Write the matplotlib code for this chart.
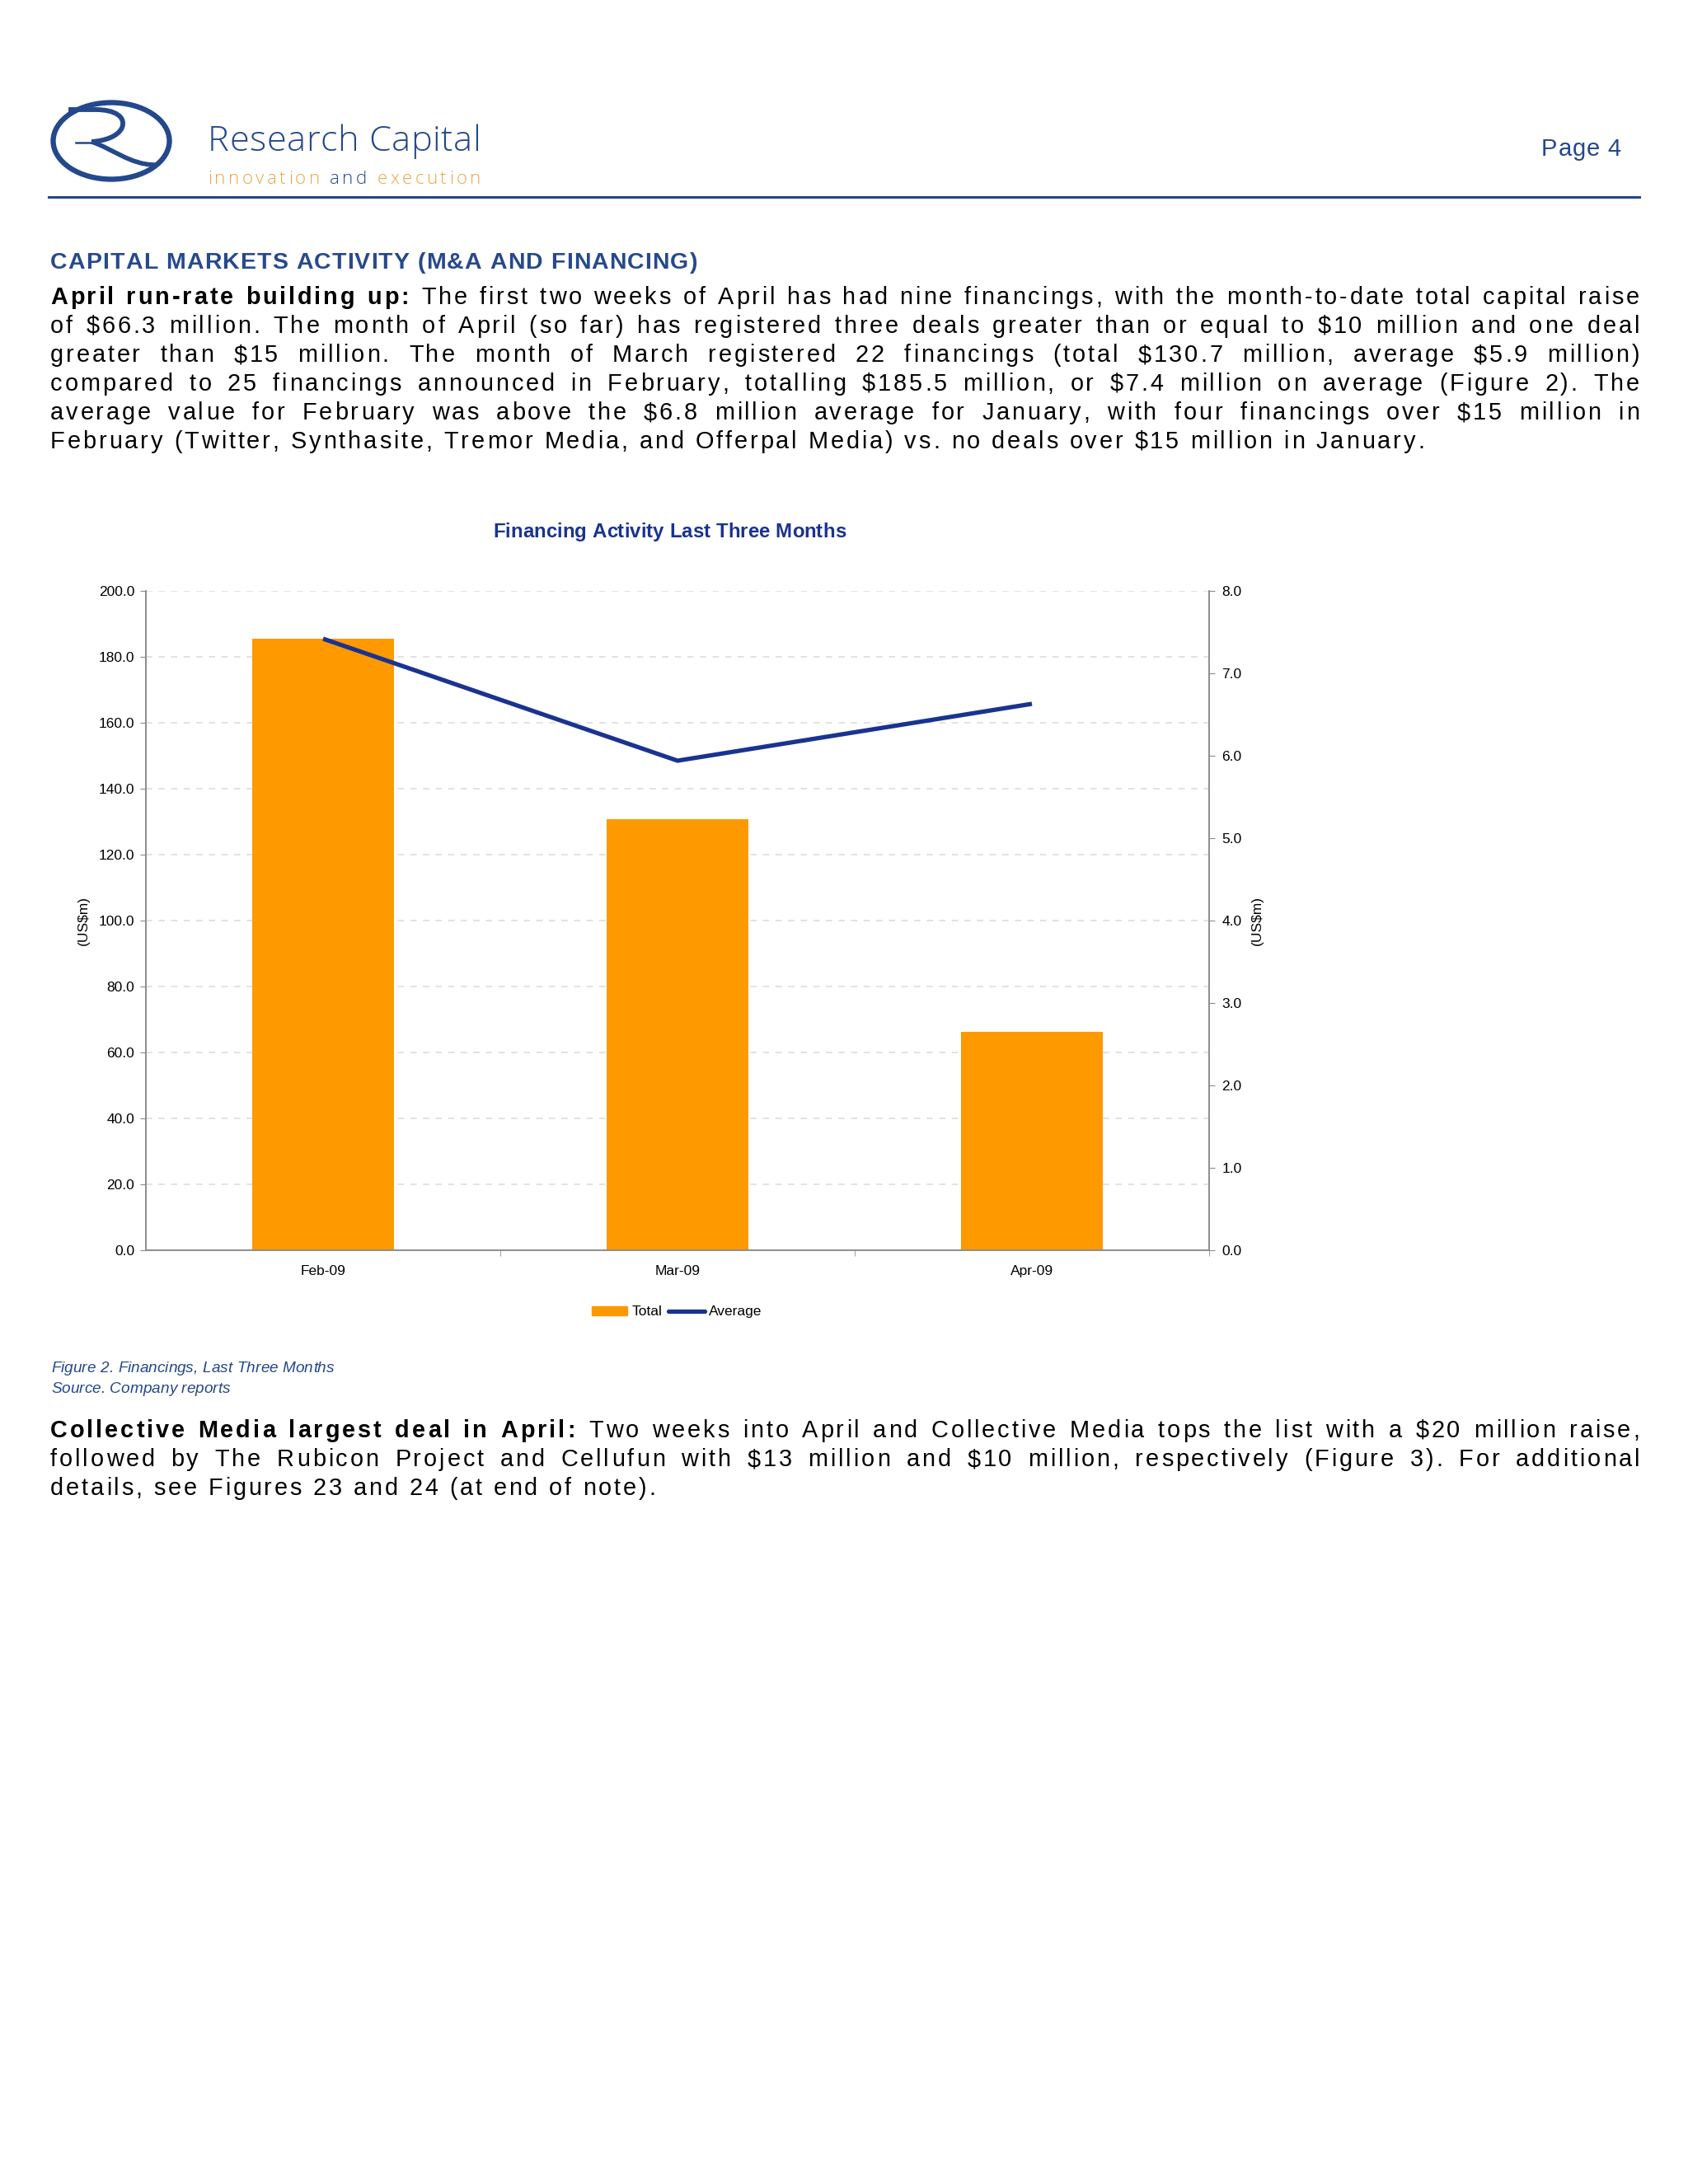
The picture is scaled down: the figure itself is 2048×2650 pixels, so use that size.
#!/usr/bin/env python

import numpy as np
import matplotlib
matplotlib.use("Agg")
import matplotlib.pyplot as plt
from matplotlib.font_manager import FontProperties, findfont, get_font
from matplotlib.patches import Ellipse, PathPatch, Patch
from matplotlib.path import Path
from matplotlib.ticker import FormatStrFormatter
from matplotlib.lines import Line2D

plt.rcParams['font.family'] = ['Liberation Sans', 'DejaVu Sans']

# chart data
months = ["Feb-09", "Mar-09", "Apr-09"]
total = [185.5, 130.7, 66.3]       # US$m, left axis
average = [7.42, 5.94, 6.63]       # US$m, right axis
left_ticks = [0, 20, 40, 60, 80, 100, 120, 140, 160, 180, 200]
right_ticks = [0, 1, 2, 3, 4, 5, 6, 7, 8]

para1 = [
    "The first two weeks of April has had nine financings, with the month-to-date total capital raise",
    "of $66.3 million. The month of April (so far) has registered three deals greater than or equal to $10 million and one deal",
    "greater than $15 million. The month of March registered 22 financings (total $130.7 million, average $5.9 million)",
    "compared to 25 financings announced in February, totalling $185.5 million, or $7.4 million on average (Figure 2). The",
    "average value for February was above the $6.8 million average for January, with four financings over $15 million in",
    "February (Twitter, Synthasite, Tremor Media, and Offerpal Media) vs. no deals over $15 million in January.",
]
para2 = [
    "Two weeks into April and Collective Media tops the list with a $20 million raise,",
    "followed by The Rubicon Project and Cellufun with $13 million and $10 million, respectively (Figure 3). For additional",
    "details, see Figures 23 and 24 (at end of note).",
]

NAVY = "#24488c"
BLUE = "#1a3391"
ORANGE = "#ff9900"
GOLD = "#eea444"

fig = plt.figure(figsize=(20.48, 26.5), dpi=100)
page = fig.add_axes([0, 0, 1, 1])
page.set_xlim(0, 2048)
page.set_ylim(2650, 0)
page.axis("off")

_adv = {}
def advance(ch, fp):
    path = findfont(fp)
    key = (path, fp.get_size_in_points(), ch)
    if key not in _adv:
        font = get_font(path)
        font.set_size(fp.get_size_in_points(), 100)
        g = font.load_char(ord(ch))
        _adv[key] = g.linearHoriAdvance / 65536
    return _adv[key]

def glyph_list(segments, size, family, style):
    out = []
    for text, weight, color in segments:
        fp = FontProperties(family=list(family), size=size, weight=weight, style=style)
        for ch in text:
            out.append((ch, fp, color, advance(ch, fp)))
    return out

def typeset(segments, x0, y, size, x1=None, tracking=None, justify=False, fit=False,
            family=("Liberation Sans",), style="normal"):
    # characters are placed one by one so tracking / justification can be copied
    glyphs = glyph_list(segments, size, family, style)
    n = len(glyphs)
    if fit:
        tr = tracking or 0
        nat = sum(g[3] for g in glyphs)
        size = size * (x1 - x0 - tr * (n - 1)) / nat
        glyphs = glyph_list(segments, size, family, style)
    natural = sum(g[3] for g in glyphs)
    nsp = sum(1 for g in glyphs if g[0] == " ")
    extra = 0
    if tracking is None:
        tracking = (x1 - x0 - natural) / (n - 1)
    elif (justify or fit) and nsp:
        extra = (x1 - x0 - natural - tracking * (n - 1)) / nsp
    x = x0
    for ch, fp, color, adv in glyphs:
        if ch != " ":
            page.text(x, y, ch, fontproperties=fp, color=color, ha="left",
                      va="baseline", parse_math=False)
        x += adv + tracking + (extra if ch == " " else 0)
    return tracking

# ---- header / logo ----
page.add_patch(Ellipse((135, 171), 141, 93, fill=False, lw=4.6, edgecolor=NAVY))
r_bowl = Path([(83, 133), (116, 133), (140, 133), (153, 142), (148, 155),
               (143, 166), (126, 171), (111, 172)],
              [Path.MOVETO, Path.LINETO, Path.CURVE4, Path.CURVE4, Path.CURVE4,
               Path.CURVE4, Path.CURVE4, Path.CURVE4])
r_leg = Path([(111, 172), (136, 180), (158, 200), (188, 200)],
             [Path.MOVETO, Path.CURVE4, Path.CURVE4, Path.CURVE4])
page.add_patch(PathPatch(r_bowl, fill=False, lw=4.2, edgecolor=NAVY, capstyle="butt"))
page.add_patch(PathPatch(r_leg, fill=False, lw=4.0, edgecolor=NAVY, capstyle="butt"))
page.plot([92, 118], [172.5, 172.5], color=NAVY, lw=1.8)

typeset([("Research Capital", "light", NAVY)], 252, 183, 26, x1=583, tracking=0.5, fit=True,
        family=("Open Sans", "Liberation Sans"))
typeset([("innovation ", "light", GOLD), ("and ", "light", NAVY),
         ("execution", "light", GOLD)], 252, 223, 16, x1=583,
        family=("Open Sans", "Liberation Sans"))
typeset([("Page 4", "normal", NAVY)], 1870, 189, 22, x1=1967, tracking=1.0, fit=True)
page.plot([59, 1989], [239, 239], color=NAVY, lw=2.2)

# ---- text ----
typeset([("CAPITAL MARKETS ACTIVITY (M&A AND FINANCING)", "bold", "#27498c")],
        61, 326, 20.5, x1=846)

BODY = 20.8
base1 = [369, 404, 439, 474, 509, 544]
t1 = typeset([(para1[-1], "normal", "black")], 61, base1[-1], BODY, x1=1728)
for i, line in enumerate(para1[:-1]):
    segs = [(line, "normal", "black")]
    if i == 0:
        segs = [("April run-rate building up: ", "bold", "black")] + segs
    typeset(segs, 61, base1[i], BODY, x1=1989, tracking=t1, justify=True)

base2 = [1744, 1779, 1814]
typeset([(para2[-1], "normal", "black")], 61, base2[-1], BODY, x1=795)
for i, line in enumerate(para2[:-1]):
    segs = [(line, "normal", "black")]
    if i == 0:
        segs = [("Collective Media largest deal in April: ", "bold", "black")] + segs
    typeset(segs, 61, base2[i], BODY, x1=1989, tracking=t1, justify=True)

# chart title and caption
typeset([("Financing Activity Last Three Months", "bold", BLUE)], 598, 652, 17,
        x1=1026, tracking=0, fit=True)
typeset([("Figure 2. Financings, Last Three Months", "normal", NAVY)], 62, 1665,
        15, x1=405, tracking=0, fit=True, style="italic")
typeset([("Source. Company reports", "normal", NAVY)], 62, 1690,
        15, x1=279, tracking=0, fit=True, style="italic")

# ---- chart ----
ax = fig.add_axes([177 / 2048, 1 - 1517 / 2650, 1290 / 2048, 800 / 2650])
x = np.arange(len(months))
ax.bar(x, total, 0.4, color=ORANGE, zorder=2)
ax.set_xlim(-0.5, 2.5)
ax.set_ylim(0, 200)
ax.set_yticks(left_ticks)
ax.yaxis.set_major_formatter(FormatStrFormatter("%.1f"))
ax.grid(axis="y", color="#dadada", lw=1.1, ls=(0, (5, 5)))
ax.set_axisbelow(True)
ax.set_xticks(x)
ax.set_xticklabels(months)
ax.set_xticks([0.5, 1.5, 2.5], minor=True)
ax.tick_params(axis="x", which="major", length=0, labelsize=12.5, pad=13)
ax.tick_params(axis="x", which="minor", length=5, color="#8c8c8c", direction="out")
ax.tick_params(axis="y", length=5, color="#8c8c8c", labelsize=12.5, pad=5)
for s in ["left", "right", "bottom"]:
    ax.spines[s].set_color("#8c8c8c")
    ax.spines[s].set_linewidth(1.2)
ax.spines["top"].set_visible(False)

ax2 = ax.twinx()
ax2.plot(x, average, color=BLUE, lw=3.8, solid_capstyle="butt")
ax2.set_ylim(0, 8)
ax2.set_yticks(right_ticks)
ax2.yaxis.set_major_formatter(FormatStrFormatter("%.1f"))
ax2.tick_params(axis="y", length=5, color="#8c8c8c", labelsize=12.5, pad=6)
ax2.spines["top"].set_visible(False)
for s in ["left", "right", "bottom"]:
    ax2.spines[s].set_color("#8c8c8c")
    ax2.spines[s].set_linewidth(1.2)

page.text(101, 1117, "(US$m)", rotation=90, ha="center", va="center", fontsize=12.5,
          parse_math=False)
page.text(1525, 1117, "(US$m)", rotation=90, ha="center", va="center", fontsize=12.5,
          parse_math=False)

handles = [Patch(color=ORANGE), Line2D([], [], color=BLUE, lw=3.8, solid_capstyle="round")]
fig.legend(handles, ["Total", "Average"], loc="center", bbox_to_anchor=(821 / 2048, 1 - 1592 / 2650),
           ncol=2, frameon=False, fontsize=12.5, handlelength=2.5, handleheight=0.65,
           handletextpad=0.3, columnspacing=0.45)

fig.savefig("out.png", dpi=100)
